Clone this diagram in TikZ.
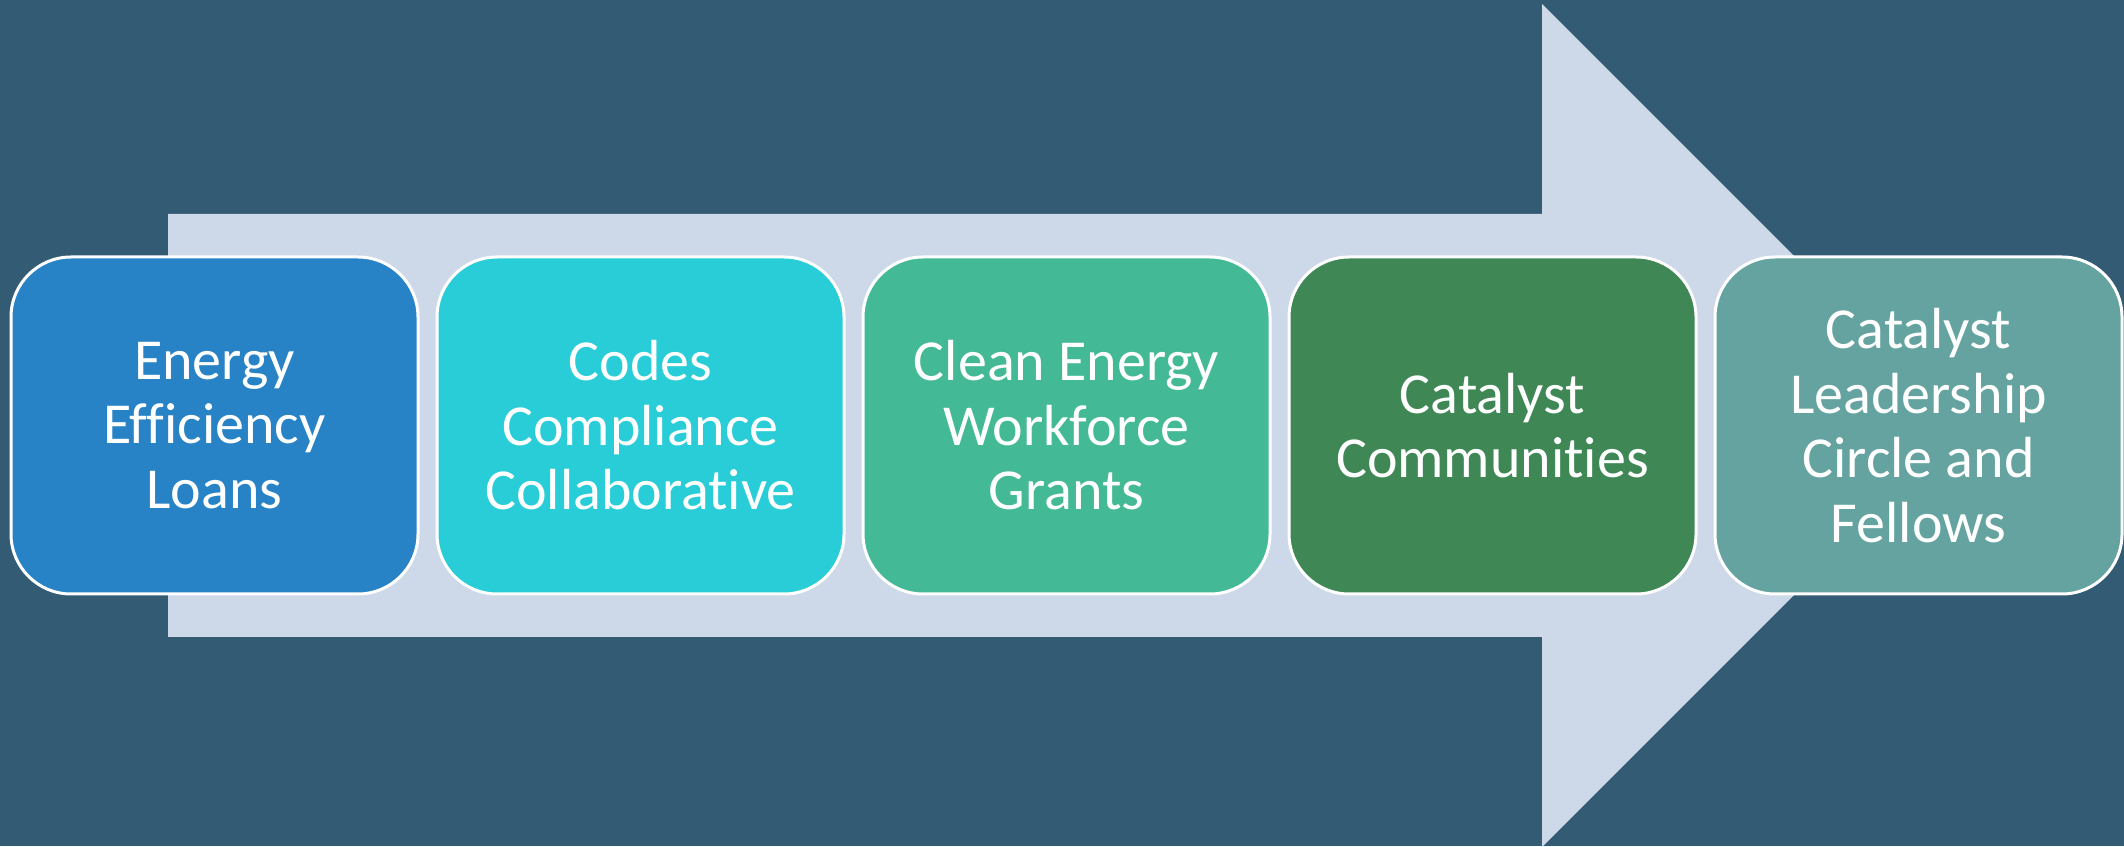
\documentclass[tikz,border=0pt]{standalone}
\usepackage{fontspec}
\setmainfont[Ligatures={NoCommon},RawFeature={-liga;-dlig}]{Carlito}
\definecolor{bgc}{HTML}{335B74}
\definecolor{arrowc}{HTML}{CDD8E9}
\definecolor{cA}{HTML}{2783C6}
\definecolor{cB}{HTML}{28CDD7}
\definecolor{cC}{HTML}{44B995}
\definecolor{cD}{HTML}{3F8855}
\definecolor{cE}{HTML}{64A39F}
\tikzset{
  stagebox/.style={draw=white, line width=3pt, rounded corners=60pt,
    minimum width=407pt, minimum height=337pt, inner sep=0pt,
    align=center, text=white, font=\fontsize{58}{64.5}\selectfont}
}
\begin{document}
\begin{tikzpicture}[x=1pt,y=1pt]
\fill[bgc] (0,0) rectangle (2124,846);
\useasboundingbox (0,0) rectangle (2124,846);
\fill[arrowc] (168,209) -- (1542,209) -- (1542,-1) -- (1963.5,420.5) -- (1542,842) -- (1542,632) -- (168,632) -- cycle;
\node[stagebox, fill=cA] (n1) at (214.5,420.5) {Energy\\Efficiency\\Loans};
\node[stagebox, fill=cB] (n2) at (640.5,420.5) {Codes\\Compliance\\Collaborative};
\node[stagebox, fill=cC] (n3) at (1066.5,420.5) {Clean Energy\\Workforce\\Grants};
\node[stagebox, fill=cD] (n4) at (1492.5,420.5) {Catalyst\\Communities};
\node[stagebox, fill=cE] (n5) at (1918.5,420.5) {Catalyst\\Leadership\\Circle and\\Fellows};
\end{tikzpicture}
\end{document}
